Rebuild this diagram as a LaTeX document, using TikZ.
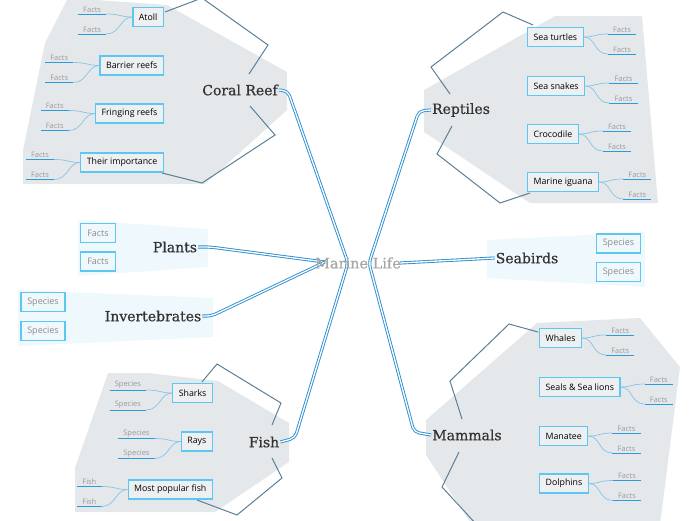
\documentclass[tikz,border=0pt]{standalone}
\usepackage{fontspec}
\newfontfamily\topicfont[FakeBold=0.7]{DejaVu Serif}
\newfontfamily\boxfont{Open Sans}
\definecolor{linkblue}{HTML}{2A8FD0}
\definecolor{brack}{HTML}{5B7F97}
\definecolor{zonegray}{HTML}{E5E8EB}
\definecolor{zoneblue}{HTML}{EEF8FD}
\definecolor{boxcyan}{HTML}{5CC8F2}
\definecolor{leafblue}{HTML}{2B9BDA}
\definecolor{leafsoft}{HTML}{86C3E6}
\tikzset{
  topic/.style={font=\topicfont\fontsize{14}{16}\selectfont, text=black!80, inner sep=1pt},
  subbox/.style={draw=boxcyan, line width=1.3pt, fill=zonegray!70!white,
    font=\boxfont\fontsize{8.8}{10}\selectfont, inner xsep=6pt, inner ysep=0pt, minimum height=19pt},
  tagbox/.style={draw=boxcyan, line width=1.3pt, fill=zoneblue, text=black!45,
    font=\boxfont\fontsize{9}{10}\selectfont, inner sep=0pt, minimum height=19pt},
  leaf/.style={font=\boxfont\fontsize{7.5}{8}\selectfont, text=black!40, inner xsep=5pt, inner ysep=1.5pt},
  leafline/.style={leafblue, line width=0.9pt},
  leafcurve/.style={leafsoft, line width=0.7pt},
  link/.style={draw=linkblue, double=white, line width=0.9pt, double distance=1.3pt, rounded corners=5pt},
  bracket/.style={brack, line width=1pt}
}
\begin{document}
\begin{tikzpicture}[x=1pt,y=-1pt]
  \useasboundingbox (0,0) rectangle (696,520);
  \clip (0,0) rectangle (696,520);
  % zones
  \fill[zonegray] (68,-2) -- (167,5) -- (287,72) -- (287,110) -- (205,184) -- (23,184) -- (23,150) -- (45,43) -- cycle;
  \fill[zonegray] (424,90) -- (555,16) -- (642,16) -- (658,203) -- (530,203) -- (424,132) -- cycle;
  \fill[zonegray] (108,373) -- (148,373) -- (218,381) -- (289,423) -- (289,462) -- (215,512) -- (75,512) -- (75,468) -- cycle;
  \fill[zonegray] (426,420) -- (537,323) -- (640,318) -- (680,367) -- (660,525) -- (472,525) -- (426,455) -- cycle;
  \fill[zoneblue] (78,220) -- (208,229) -- (208,267) -- (78,276) -- cycle;
  \fill[zoneblue] (18,290) -- (213,298) -- (213,337) -- (18,346) -- cycle;
  \fill[zoneblue] (487,240) -- (645,232) -- (645,287) -- (487,278) -- cycle;
  % brackets
  \draw[bracket] (165,12) -- (202,-2) -- (268,45) -- (249,74);
  \draw[bracket] (250,106) -- (275,135) -- (202,183) -- (162,173);
  \draw[bracket] (533,25) -- (503,12) -- (431,67) -- (450,94);
  \draw[bracket] (452,126) -- (437,154) -- (500,203) -- (530,193);
  \draw[bracket] (202,382) -- (217,364) -- (281,403) -- (272,425);
  \draw[bracket] (272,458) -- (282,478) -- (237,515) -- (197,500);
  \draw[bracket] (538,332) -- (509,324) -- (450,381) -- (462,419);
  \draw[bracket] (459,452) -- (442,487) -- (477,525);
  % main topics
  \node[topic] (coral) at (240,90) {Coral Reef};
  \node[topic] (reptiles) at (461,110) {Reptiles};
  \node[topic] (plants) at (175,247) {Plants};
  \node[topic] (invert) at (153,316) {Invertebrates};
  \node[topic] (fish) at (264,442) {Fish};
  \node[topic] (seabirds) at (527,258) {Seabirds};
  \node[topic] (mammals) at (467,435) {Mammals};
  % junctions
  \coordinate (jl) at (348,263);
  \coordinate (jr) at (369,263);
  \coordinate (jp) at (325,262);
  \draw[link] (coral.east) -- ++(9,1) -- (jl) -- (295,438) -- (fish.east);
  \draw[link] (reptiles.west) -- ++(-12,1) -- (jr) -- (414,432) -- (mammals.west);
  \draw[link] (plants.east) -- ++(12,0) -- (jp);
  \draw[link] (invert.east) -- ++(9,0) -- (jp);
  % center
  \node[font=\topicfont\fontsize{14.5}{16}\selectfont, text=black!35, inner sep=1pt] (center) at (358,263) {Marine Life};
  \draw[link] ([xshift=-2pt]center.east) -- (seabirds.west);
  % sub topics
  \node[subbox, anchor=east] (atoll) at (164,17) {Atoll};
  \node[subbox, anchor=east] (barrier) at (164,65.5) {Barrier reefs};
  \node[subbox, anchor=east] (fringing) at (164,113.5) {Fringing reefs};
  \node[subbox, anchor=east] (importance) at (164,162.5) {Their importance};
  \node[subbox, anchor=east] (sharks) at (213,393) {Sharks};
  \node[subbox, anchor=east] (rays) at (213,441.5) {Rays};
  \node[subbox, anchor=east] (popular) at (213,489.5) {Most popular fish};
  \node[subbox, anchor=west] (turtles) at (527,37) {Sea turtles};
  \node[subbox, anchor=west] (snakes) at (527,86) {Sea snakes};
  \node[subbox, anchor=west] (croc) at (527,134) {Crocodile};
  \node[subbox, anchor=west] (iguana) at (527,182) {Marine iguana};
  \node[subbox, anchor=west] (whales) at (539,338) {Whales};
  \node[subbox, anchor=west] (seals) at (539,387) {Seals \& Sea lions};
  \node[subbox, anchor=west] (manatee) at (539,436) {Manatee};
  \node[subbox, anchor=west] (dolphins) at (539,483.5) {Dolphins};
  % tag boxes
  \node[tagbox, minimum width=35pt] (pf1) at (98,233) {Facts};
  \node[tagbox, minimum width=35pt] (pf2) at (98,261.5) {Facts};
  \node[tagbox, minimum width=44pt] (is1) at (43,302) {Species};
  \node[tagbox, minimum width=44pt] (is2) at (43,331) {Species};
  \node[tagbox, minimum width=44pt] (ss1) at (618.5,243.5) {Species};
  \node[tagbox, minimum width=44pt] (ss2) at (618.5,272) {Species};
  % leaves on the left
  \foreach \b/\t in {atoll/Facts, barrier/Facts, fringing/Facts, importance/Facts, sharks/Species, rays/Species, popular/Fish}{
    \node[leaf, anchor=south east] (\b-a) at ([shift={(-26,-3)}]\b.west) {\t};
    \node[leaf, anchor=south east] (\b-b) at ([shift={(-26,17)}]\b.west) {\t};
    \foreach \k in {a,b}{
      \draw[leafline] (\b-\k.south west) -- (\b-\k.south east);
      \draw[leafcurve] (\b-\k.south east) .. controls +(14,0) and +(-12,0) .. (\b.west);
    }
  }
  % leaves on the right
  \foreach \b in {turtles, snakes, croc, iguana, whales, seals, manatee, dolphins}{
    \node[leaf, anchor=south west] (\b-a) at ([shift={(24,-3)}]\b.east) {Facts};
    \node[leaf, anchor=south west] (\b-b) at ([shift={(24,17)}]\b.east) {Facts};
    \foreach \k in {a,b}{
      \draw[leafline] (\b-\k.south west) -- (\b-\k.south east);
      \draw[leafcurve] (\b.east) .. controls +(12,0) and +(-14,0) .. (\b-\k.south west);
    }
  }
\end{tikzpicture}
\end{document}
